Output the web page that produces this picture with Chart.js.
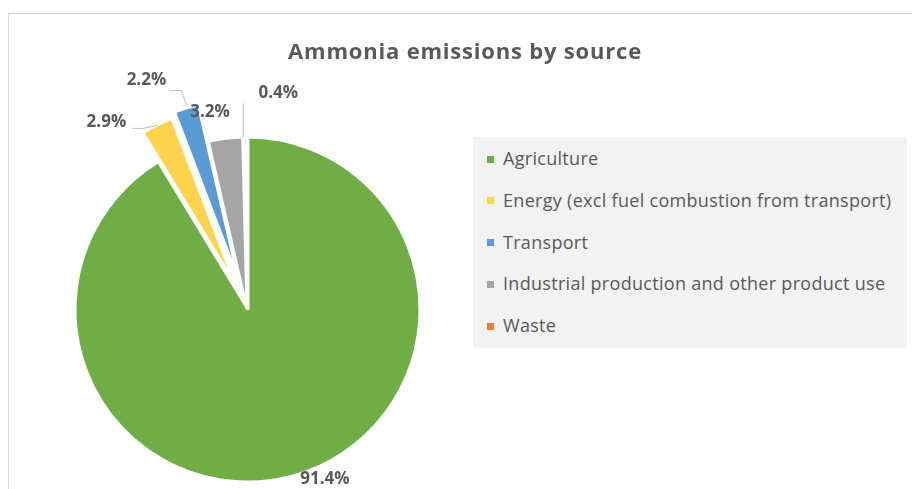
<!DOCTYPE html>
<html>
<head>
<meta charset="utf-8">
<script src="https://cdn.jsdelivr.net/npm/chart.js@4.4.1/dist/chart.umd.min.js"></script>
<style>
  body { margin: 0; background: #fff; font-family: "Open Sans", sans-serif; }
  #wrap { position: relative; width: 912px; height: 489px; overflow: hidden; }
  #frame { position: absolute; left: 8px; top: 13px; width: 920px; height: 490px;
           border-left: 1px solid #d9d9d9; border-top: 1px solid #d9d9d9; }
  #title { position: absolute; left: 0; width: 930px; top: 35px; line-height: 30px;
           text-align: center; font-weight: 700; font-size: 22px; letter-spacing: 0.8px; color: #595959; }
  #legend { position: absolute; left: 473px; top: 137px; width: 434px; height: 211px; background: #f2f2f2; }
  .item { position: absolute; left: 14px; font-size: 18px; letter-spacing: 0.3px; line-height: 22px; color: #595959; white-space: nowrap; }
  .sw { display: inline-block; width: 7px; height: 7px; margin-right: 9px; vertical-align: middle; position: relative; top: -1px; }
  canvas { position: absolute; left: 0; top: 0; }
</style>
</head>
<body>
<div id="wrap">
  <div id="frame"></div>
  <canvas id="chart" width="912" height="489"></canvas>
  <div id="title">Ammonia emissions by source</div>
  <div id="legend"></div>
</div>
<script>
const SOURCES = [
  'Agriculture',
  'Energy (excl fuel combustion from transport)',
  'Transport',
  'Industrial production and other product use',
  'Waste',
];
const SHARES = [91.4, 2.9, 2.2, 3.2, 0.4];
const COLORS = ['#70AD47', '#FFD34F', '#5B9BD5', '#A5A5A5', '#ED7D31'];

// how far each slice is pulled out of the pie (px)
const EXPLODE = [0, 33, 38, 0, 0];
// label offset from the slice's outer mid point, plus optional leader line
const LABELS = [
  { dx: 31, dy: 4 },
  { dx: -51, dy: -3, lead: [[0, 0], [-14, 3], [-25, 3]] },
  { dx: -40, dy: -28, lead: [[0, -3], [-5, -18], [-16, -18]] },
  { dx: -16, dy: -27 },
  { dx: 33, dy: -44, lead: [[-2, 0], [-2, -34]] },
];

const legend = document.getElementById('legend');
SOURCES.forEach((s, i) => {
  const el = document.createElement('div');
  el.className = 'item';
  el.style.top = (10 + i * 41.75) + 'px';
  el.innerHTML = '<span class="sw" style="background:' + COLORS[i] + '"></span>' + s;
  legend.appendChild(el);
});

const explodePlugin = {
  id: 'explode',
  beforeDatasetDraw(chart, args) {
    const ctx = chart.ctx;
    args.meta.data.forEach((arc, i) => {
      const mid = (arc.startAngle + arc.endAngle) / 2;
      ctx.save();
      ctx.translate(Math.cos(mid) * EXPLODE[i], Math.sin(mid) * EXPLODE[i]);
      arc.draw(ctx);
      ctx.restore();
    });
    return false;
  },
  afterDatasetsDraw(chart) {
    const ctx = chart.ctx;
    const meta = chart.getDatasetMeta(0);
    meta.data.forEach((arc, i) => {
      const mid = (arc.startAngle + arc.endAngle) / 2;
      const r = arc.outerRadius + EXPLODE[i];
      const px = arc.x + Math.cos(mid) * r;
      const py = arc.y + Math.sin(mid) * r;
      const lab = LABELS[i];
      if (lab.lead) {
        ctx.save();
        ctx.strokeStyle = '#bfbfbf';
        ctx.lineWidth = 1;
        ctx.beginPath();
        lab.lead.forEach(([x, y], k) => {
          if (k === 0) ctx.moveTo(px + x, py + y); else ctx.lineTo(px + x, py + y);
        });
        ctx.stroke();
        ctx.restore();
      }
      ctx.save();
      ctx.font = 'bold 17px "Open Sans"';
      ctx.fillStyle = '#595959';
      ctx.textAlign = 'center';
      ctx.textBaseline = 'middle';
      ctx.fillText(SHARES[i].toFixed(1) + '%', px + lab.dx, py + lab.dy);
      ctx.restore();
    });
  }
};

new Chart(document.getElementById('chart'), {
  type: 'pie',
  data: {
    labels: SOURCES,
    datasets: [{
      data: SHARES,
      backgroundColor: COLORS,
      borderColor: '#ffffff',
      borderWidth: [2, 2, 2, 2, 4],
      hoverOffset: 0,
    }]
  },
  options: {
    responsive: false,
    animation: false,
    events: [],
    radius: 172,
    layout: { padding: { left: 0, right: 417, top: 136, bottom: 6 } },
    plugins: {
      legend: { display: false },
      tooltip: { enabled: false },
      title: { display: false }
    }
  },
  plugins: [explodePlugin]
});
</script>
</body>
</html>
